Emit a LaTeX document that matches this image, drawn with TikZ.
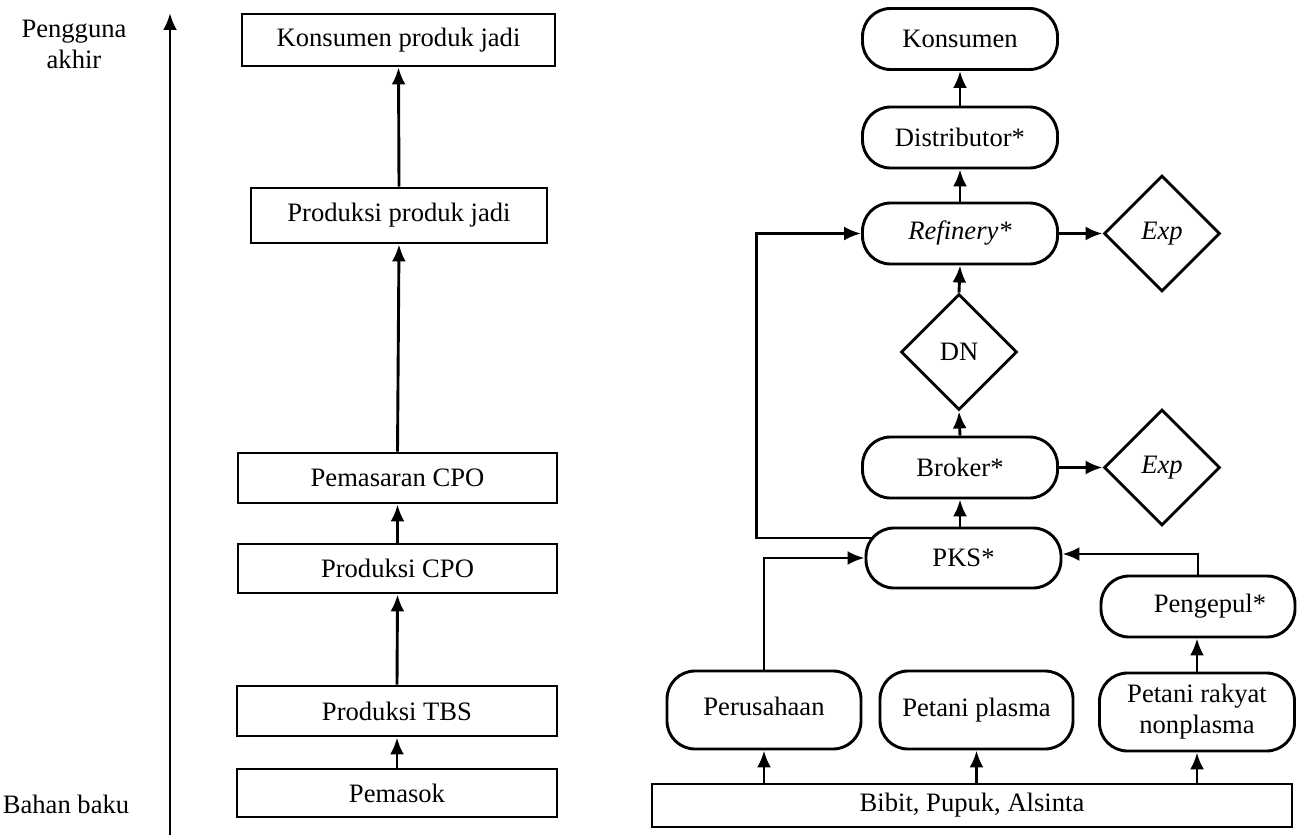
\documentclass[tikz,border=0pt]{standalone}
\usepackage{fontspec}
\setmainfont{Liberation Serif}
\usetikzlibrary{shapes.geometric,arrows.meta}
\begin{document}
\begin{tikzpicture}[x=1pt,y=-1pt,
  every node/.style={font=\fontsize{26.6}{31}\selectfont, inner sep=0pt},
  sq/.style={draw, line width=2.9pt, rectangle},
  rnd/.style={draw, line width=2.9pt, rectangle, rounded corners=28pt},
  dia/.style={draw, line width=2.9pt, diamond, minimum width=116pt, minimum height=116pt},
  lbl/.style={align=center},
  arr/.style={line width=2.9pt, -{Latex[length=17pt,width=14pt]}}
]
\useasboundingbox (0,0) rectangle (1300,837);

% left labels and axis
\node[lbl] (pg) at (74,44) {Pengguna\\akhir};
\node[lbl] (bb) at (66,804) {Bahan baku};
\coordinate (axb) at (170,835);
\coordinate (axt) at (170,13);
\draw[arr] (axb) -- (axt);

% left column
\node[sq, minimum width=313pt, minimum height=52pt] (k1) at (398.5,40) {Konsumen produk jadi};
\node[sq, minimum width=296pt, minimum height=55pt] (k2) at (399,215.5) {Produksi produk jadi};
\node[sq, minimum width=319pt, minimum height=50pt] (k3) at (397.5,478) {Pemasaran CPO};
\node[sq, minimum width=319pt, minimum height=49pt] (k4) at (397.5,568.5) {Produksi CPO};
\node[sq, minimum width=320pt, minimum height=50pt] (k5) at (397,711) {Produksi TBS};
\node[sq, minimum width=320pt, minimum height=48pt] (k6) at (397,793) {Pemasok};

\draw[arr] (k6.north) -- (k5.south);
\draw[arr] (k5.north) -- (k4.south);
\draw[arr] (k4.north) -- (k3.south);
\draw[arr] (k3.north) -- (k2.south);
\draw[arr] (k2.north) -- (k1.south);

% right column
\node[rnd, minimum width=195pt, minimum height=61pt] (kon) at (960,39) {Konsumen};
\node[rnd, minimum width=195pt, minimum height=61pt] (dis) at (960,137.5) {Distributor*};
\node[rnd, minimum width=195pt, minimum height=61pt] (ref) at (960,233.5) {\itshape Refinery*};
\node[dia] (exa) at (1162,233.5) {\itshape Exp};
\node[dia] (dn) at (959,352) {DN};
\node[rnd, minimum width=195pt, minimum height=61pt] (bro) at (960,467.5) {Broker*};
\node[dia] (exb) at (1162,467.5) {\itshape Exp};
\node[rnd, minimum width=195pt, minimum height=60pt] (pks) at (963.5,558) {PKS*};
\node[rnd, minimum width=194pt, minimum height=61pt] (pen) at (1198,606.5) {\hspace*{24pt}Pengepul*};
\node[rnd, minimum width=194pt, minimum height=78pt] (per) at (764,710) {\raisebox{7pt}{Perusahaan}};
\node[rnd, minimum width=193pt, minimum height=78pt] (pla) at (976.5,710) {Petani plasma};
\node[rnd, minimum width=195pt, minimum height=78pt, align=center] (rak) at (1197,712) {Petani rakyat\\nonplasma};
\node[sq, minimum width=640pt, minimum height=43pt] (bib) at (972,805.5) {Bibit, Pupuk, Alsinta};

\draw[arr] (dis.north) -- (kon.south);
\draw[arr] (ref.north) -- (dis.south);
\draw[arr] (dn.north) -- (ref.south);
\draw[arr] (bro.north) -- (dn.south);
\draw[arr] (pks.north -| bro.south) -- (bro.south);
\draw[arr] (ref.east) -- (exa.west);
\draw[arr] (bro.east) -- (exb.west);
\draw[arr] ([shift={(9,-20)}]pks.west) -- ++(-117,0) |- (ref.west);
\draw[arr] (per.north) |- (pks.west);
\draw[arr] (pen.north) |- ([yshift=4pt]pks.east);
\draw[arr] (rak.north) -- (rak.north |- pen.south);
\draw[arr] (bib.north -| per.south) -- (per.south);
\draw[arr] (bib.north -| pla.south) -- (pla.south);
\draw[arr] (bib.north -| rak.south) -- (rak.south);
\end{tikzpicture}
\end{document}
